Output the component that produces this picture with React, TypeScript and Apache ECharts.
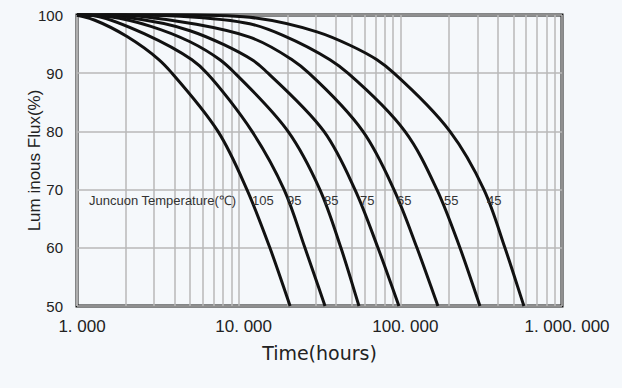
import React, { useEffect, useRef } from "react";
import * as echarts from "echarts";

// ---- data ----
const temperatures = ["105", "95", "85", "75", "65", "55", "45"];

const hours105 = [1000, 1290, 2040, 3220, 3870, 7450, 11250, 15600, 20800];
const flux105 = [100, 99.1, 96.3, 92.3, 90, 80, 70, 60, 50];

const hours95 = [1000, 1330, 2600, 5140, 6370, 12100, 19100, 25700, 34200];
const flux95 = [100, 99.8, 96.8, 92.3, 90, 80, 70, 60, 50];

const hours85 = [1000, 1600, 2830, 5000, 7660, 9490, 20200, 31800, 42900, 55500];
const flux85 = [100, 99.7, 98.1, 95.4, 92.3, 90, 80, 70, 60, 50];

const hours75 = [1000, 2010, 5000, 12100, 15200, 33700, 52400, 72700, 98000];
const flux75 = [100, 99.6, 97.3, 92.3, 90, 80, 70, 60, 50];

const hours65 = [1000, 2450, 11700, 21400, 27200, 58700, 91300, 126700, 170800];
const flux65 = [100, 99.8, 96.2, 92.3, 90, 80, 70, 60, 50];

const hours55 = [1000, 4340, 11700, 18800, 36700, 47400, 106800, 168400, 233700, 310700];
const flux55 = [100, 99.8, 98.5, 96.5, 92.3, 90, 80, 70, 60, 50];

const hours45 = [1000, 11700, 30500, 48800, 71700, 91300, 202700, 328900, 443600, 581400];
const flux45 = [100, 99.6, 97.1, 94.8, 92.3, 90, 80, 70, 60, 50];

const xTickLabels = ["1. 000", "10. 000", "100. 000", "1. 000. 000"];
const minorGridHours = [
  2000, 3000, 4000, 5000, 6000, 7000, 8000, 9000,
  20000, 30000, 40000, 50000, 60000, 70000, 80000, 90000,
  200000, 300000, 400000, 500000, 600000, 700000, 800000, 900000,
];

const curves = [
  { hours: hours105, flux: flux105 },
  { hours: hours95, flux: flux95 },
  { hours: hours85, flux: flux85 },
  { hours: hours75, flux: flux75 },
  { hours: hours65, flux: flux65 },
  { hours: hours55, flux: flux55 },
  { hours: hours45, flux: flux45 },
];

const tempLabelX = [252, 287, 324, 360, 397, 444, 487];

const FONT = "'Liberation Sans', Arial, sans-serif";

// centripetal Catmull-Rom spline through pixel points, as cubic Bezier path data
function splinePath(pts: number[][]): string {
  const n = pts.length;
  const P = (i: number) => pts[Math.max(0, Math.min(n - 1, i))];
  const dist = (a: number[], b: number[]) => Math.sqrt(Math.hypot(b[0] - a[0], b[1] - a[1]));
  let d = `M${pts[0][0]},${pts[0][1]}`;
  for (let i = 0; i < n - 1; i++) {
    const p0 = P(i - 1), p1 = P(i), p2 = P(i + 1), p3 = P(i + 2);
    const d1 = dist(p0, p1), d2 = dist(p1, p2), d3 = dist(p2, p3);
    let c1 = p1, c2 = p2;
    if (d1 > 1e-6) {
      c1 = [0, 1].map(
        (k) => (d1 * d1 * p2[k] - d2 * d2 * p0[k] + (2 * d1 * d1 + 3 * d1 * d2 + d2 * d2) * p1[k]) /
          (3 * d1 * (d1 + d2))
      );
    } else {
      c1 = [0, 1].map((k) => p1[k] + (p2[k] - p1[k]) / 3);
    }
    if (d3 > 1e-6) {
      c2 = [0, 1].map(
        (k) => (d3 * d3 * p1[k] - d2 * d2 * p3[k] + (2 * d3 * d3 + 3 * d3 * d2 + d2 * d2) * p2[k]) /
          (3 * d3 * (d3 + d2))
      );
    } else {
      c2 = [0, 1].map((k) => p2[k] - (p2[k] - p1[k]) / 3);
    }
    d += ` C${c1[0]},${c1[1]} ${c2[0]},${c2[1]} ${p2[0]},${p2[1]}`;
  }
  return d;
}

export default function App() {
  const ref = useRef<HTMLDivElement>(null);

  useEffect(() => {
    document.body.style.margin = "0";
    if (!ref.current) return;
    const chart = echarts.init(ref.current, null, { renderer: "svg" });

    const curveSeries = curves.map((c, i) => ({
      name: temperatures[i],
      type: "custom",
      coordinateSystem: "cartesian2d",
      data: c.hours.map((h, j) => [h, c.flux[j]]),
      encode: { x: 0, y: 1 },
      z: 5,
      silent: true,
      renderItem: (params: any, api: any) => {
        if (params.dataIndex !== 0) return null;
        const pts = c.hours.map((h, j) => api.coord([h, c.flux[j]]));
        return {
          type: "path",
          shape: { pathData: splinePath(pts) },
          style: { stroke: "#111111", lineWidth: 3, fill: "none" },
        };
      },
    }));

    const gridSeries = {
      name: "grid",
      type: "line",
      data: [],
      z: 1,
      silent: true,
      markLine: {
        silent: true,
        symbol: "none",
        label: { show: false },
        lineStyle: { color: "#b8b8b8", type: "solid", width: 1.5 },
        data: minorGridHours.map((v) => ({ xAxis: v })),
      },
    };

    const graphics: any[] = [
      {
        type: "text",
        left: 89,
        top: 194,
        style: {
          text: "Juncuon Temperature(℃)",
          fill: "#333333",
          font: `13px ${FONT}`,
        },
        z: 10,
      },
      ...temperatures.map((t, i) => ({
        type: "text",
        left: tempLabelX[i],
        top: 194,
        style: { text: t, fill: "#333333", font: `13px ${FONT}` },
        z: 10,
      })),
    ];

    chart.setOption({
      animation: false,
      backgroundColor: "#f5f8fb",
      grid: {
        left: 77,
        right: 60,
        top: 15,
        bottom: 82,
        show: true,
        borderColor: "#151515",
        borderWidth: 3,
        backgroundColor: "transparent",
      },
      xAxis: {
        type: "log",
        logBase: 10,
        min: 1000,
        max: 1000000,
        name: "Time(hours)",
        nameLocation: "middle",
        nameGap: 37,
        nameTextStyle: { fontSize: 19, color: "#222222", fontFamily: "'DejaVu Sans', sans-serif" },
        axisLine: { show: false },
        axisTick: { show: false },
        axisLabel: {
          fontSize: 17,
          color: "#222222",
          fontFamily: FONT,
          margin: 12,
          padding: [0, 0, 0, 10],
          showMinLabel: true,
          showMaxLabel: true,
          formatter: (v: number) => xTickLabels[Math.round(Math.log10(v)) - 3] ?? "",
        },
        splitLine: { show: true, lineStyle: { color: "#b8b8b8", width: 1.5 } },
      },
      yAxis: {
        type: "value",
        min: 50,
        max: 100,
        interval: 10,
        name: "Lum inous Flux(%)",
        nameLocation: "middle",
        nameGap: 34,
        nameMoveOverlap: false,
        nameRotate: 90,
        nameTextStyle: { fontSize: 17, color: "#222222", fontFamily: FONT },
        axisLine: { show: false },
        axisTick: { show: false },
        axisLabel: { fontSize: 15, color: "#222222", fontFamily: FONT, margin: 14 },
        splitLine: { show: true, lineStyle: { color: "#b8b8b8", width: 1.5 } },
      },
      series: [gridSeries, ...curveSeries],
      graphic: graphics,
    });

    return () => chart.dispose();
  }, []);

  return <div ref={ref} style={{ width: 622, height: 388 }} />;
}
